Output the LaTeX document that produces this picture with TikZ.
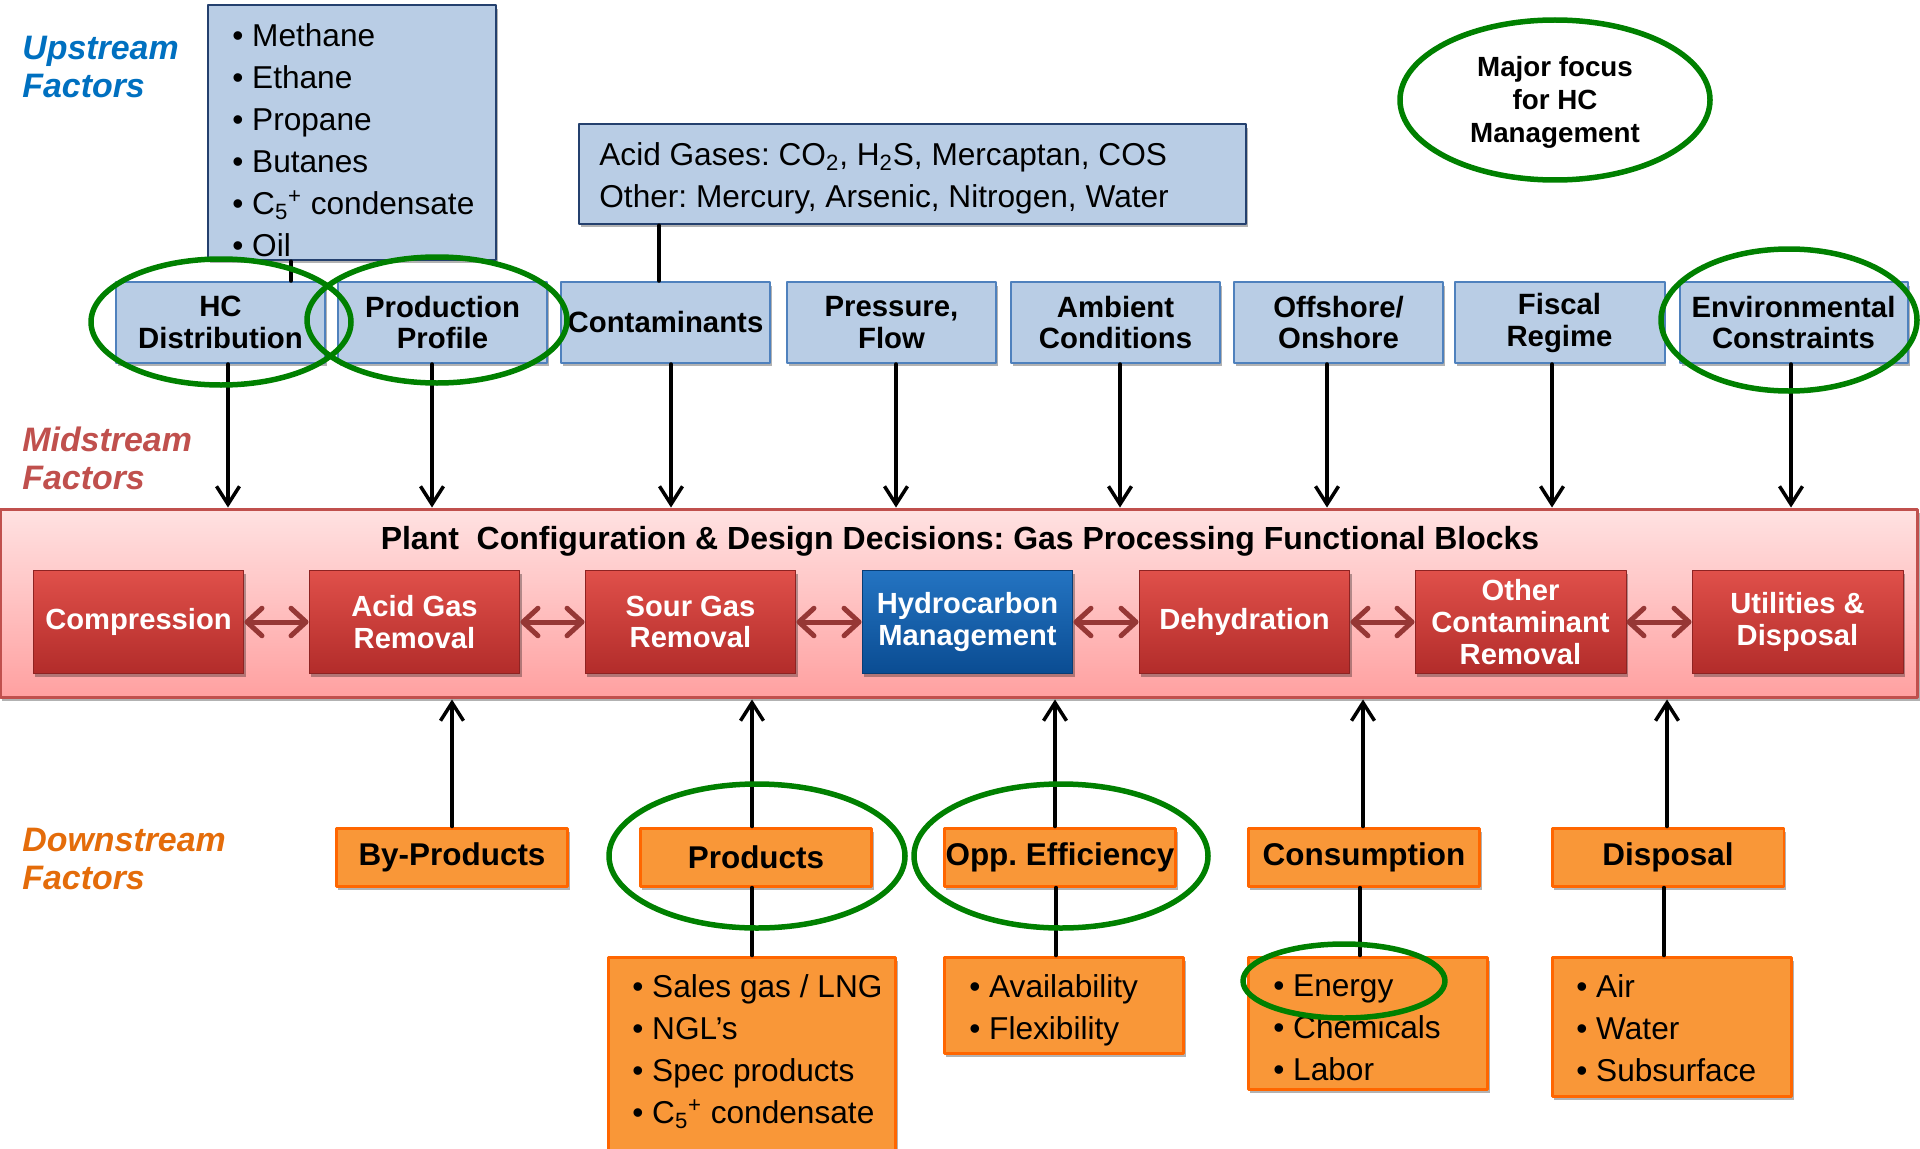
\documentclass[tikz,border=0pt]{standalone}
\usepackage{fontspec}
\setmainfont{Liberation Sans}
\usetikzlibrary{arrows.meta,positioning,shadows}
\definecolor{upfill}{RGB}{185,205,229}
\definecolor{upedge}{RGB}{79,129,189}
\definecolor{listedge}{RGB}{36,64,110}
\definecolor{dsfill}{RGB}{249,151,56}
\definecolor{dsedge}{RGB}{255,102,0}
\definecolor{ringgreen}{RGB}{0,128,0}
\definecolor{upcol}{RGB}{0,112,192}
\definecolor{midcol}{RGB}{192,80,77}
\definecolor{downcol}{RGB}{228,108,10}
\definecolor{planttop}{RGB}{255,226,226}
\definecolor{plantbot}{RGB}{255,160,160}
\definecolor{redtop}{RGB}{224,80,74}
\definecolor{redbot}{RGB}{178,44,42}
\definecolor{bluetop}{RGB}{36,116,194}
\definecolor{bluebot}{RGB}{10,76,146}
\definecolor{linkred}{RGB}{150,55,53}

\begin{document}
\frenchspacing
\begin{tikzpicture}[line cap=round,line join=round,>={Straight Barb[length=0.36cm,width=0.46cm]},x=0.02cm,y=-0.02cm,
	boxshadow/.style={drop shadow={shadow xshift=0.04cm,shadow yshift=-0.07cm,opacity=0.3,fill=black}},
	factor/.style={anchor=north west,align=left,inner sep=0pt,font=\fontsize{19.3}{21.6}\selectfont\bfseries\itshape},
	upbox/.style={draw=upedge,line width=0.04cm,fill=upfill,minimum width=4.2cm,minimum height=1.62cm,inner sep=0pt,align=center,font=\fontsize{16.7}{18.2}\selectfont\bfseries,boxshadow},
	listbox/.style={draw=listedge,line width=0.05cm,fill=upfill,inner sep=0pt,boxshadow},
	items/.style={anchor=north west,align=left,inner sep=0pt,font=\fontsize{18}{23.9}\selectfont},
	block/.style={draw=redbot!80!black,line width=0.02cm,top color=redtop,bottom color=redbot,minimum width=4.22cm,minimum height=2.08cm,inner sep=0pt,align=center,text=white,font=\fontsize{16.6}{18}\selectfont\bfseries,boxshadow},
	hcblock/.style={block,top color=bluetop,bottom color=bluebot,draw=bluebot!80!black},
	link/.style={{Straight Barb[round,length=0.3cm,width=0.55cm]}-{Straight Barb[round,length=0.3cm,width=0.55cm]},line width=0.1cm,draw=linkred},
	feed/.style={->,line width=0.07cm},
	dsbox/.style={draw=dsedge,line width=0.06cm,fill=dsfill,minimum width=4.64cm,minimum height=1.16cm,inner sep=0pt,font=\fontsize{17.9}{20}\selectfont\bfseries,boxshadow},
	dslist/.style={draw=dsedge,line width=0.06cm,fill=dsfill,inner sep=0pt,boxshadow},
	ring/.style={draw=ringgreen,line width=0.11cm}]
		\useasboundingbox (0,0) rectangle (1920,1149);
		\node[factor,text=upcol] (up) at (22,36) {Upstream\\Factors};
		\node[factor,text=midcol] (mid) at (22,427) {Midstream\\Factors};
		\node[factor,text=downcol] (down) at (22,828) {Downstream\\Factors};
		\node[listbox,minimum width=5.76cm,minimum height=5.1cm] (hclist) at (352,132.5) {};
		\node[items] (hcitems) at (232,23) {• Methane\\• Ethane\\• Propane\\• Butanes\\• C\textsubscript{5}\textsuperscript{+} condensate\\• Oil};
		\node[listbox,minimum width=13.34cm,minimum height=2cm] (acid) at (912.5,174) {};
		\node[items] (aciditems) at (599,142) {Acid Gases: CO\textsubscript{2}, H\textsubscript{2}S, Mercaptan, COS\\Other: Mercury, Arsenic, Nitrogen, Water};
		\node[align=center,inner sep=0pt,font=\fontsize{15.8}{18.8}\selectfont\bfseries] (focus) at (1555,102) {Major focus\\for HC\\Management};
		\node[upbox] (hcd) at (220.5,322.5) {HC\\Distribution};
		\node[upbox] (prof) at (442.5,322.5) {Production\\Profile};
		\node[upbox] (cont) at (665.5,322.5) {Contaminants};
		\node[upbox] (pres) at (891.5,322.5) {Pressure,\\Flow};
		\node[upbox] (amb) at (1115.5,322.5) {Ambient\\Conditions};
		\node[upbox] (off) at (1338.5,322.5) {Offshore/\\Onshore};
		\node[upbox] (fisc) at (1559.5,322.5) {Fiscal\\Regime};
		\node[upbox,minimum width=4.56cm] (env) at (1793.5,322.5) {Environmental\\Constraints};
		\draw[line width=0.07cm] (hcd.north -| 291,0) -- (hclist.south -| 291,0);
		\draw[line width=0.07cm] (cont.north -| 659,0) -- (acid.south -| 659,0);
		\node[draw=midcol,line width=0.06cm,top color=planttop,bottom color=plantbot,minimum width=38.36cm,minimum height=3.78cm,inner sep=0pt,boxshadow] (plant) at (959,603.5) {};
		\node[inner sep=0pt,font=\fontsize{18.2}{20}\selectfont\bfseries] (plantttl) at (960,541.5) {Plant\ \ Configuration \& Design Decisions: Gas Processing Functional Blocks};
		\node[block] (comp) at (138.5,622) {Compression};
		\node[block] (agr) at (414.5,622) {Acid Gas\\Removal};
		\node[block] (sgr) at (690.5,622) {Sour Gas\\Removal};
		\node[hcblock] (hcm) at (967.5,622) {Hydrocarbon\\Management};
		\node[block] (dehy) at (1244.5,622) {Dehydration};
		\node[block] (ocr) at (1520.5,622) {Other\\Contaminant\\Removal};
		\node[block] (util) at (1797.5,622) {Utilities \&\\Disposal};
		\foreach \a/\b in {comp/agr,agr/sgr,sgr/hcm,hcm/dehy,dehy/ocr,ocr/util}
			\draw[link] (\a) -- (\b);
		\foreach \n/\x in {hcd/228,prof/432,cont/671,pres/896,amb/1120,off/1327,fisc/1552,env/1791}
			\draw[feed] (\n.south -| \x,0) -- (plant.north -| \x,0);
		\node[dsbox] (byp) at (452,857) {By-Products};
		\node[dsbox] (prd) at (756,857) {Products};
		\node[dsbox] (opp) at (1060,857) {Opp. Efficiency};
		\node[dsbox] (cons) at (1364,857) {Consumption};
		\node[dsbox] (disp) at (1668,857) {Disposal};
		\foreach \n/\x in {byp/452,prd/752,opp/1055,cons/1363,disp/1667}
			\draw[feed] (\n.north -| \x,0) -- (plant.south -| \x,0);
		\node[dslist,minimum width=5.76cm,minimum height=3.9cm] (prdlist) at (752,1054.5) {};
		\node[dslist,minimum width=4.8cm,minimum height=1.92cm] (opplist) at (1064,1005) {};
		\node[dslist,minimum width=4.8cm,minimum height=2.66cm] (conslist) at (1368,1023.5) {};
		\node[dslist,minimum width=4.8cm,minimum height=2.8cm] (displist) at (1672,1027) {};
		\foreach \n/\m/\x in {prd/prdlist/752,opp/opplist/1056,cons/conslist/1360,disp/displist/1664}
			\draw[line width=0.07cm] (\n.south -| \x,0) -- (\m.north -| \x,0);
		\node[items] (prditems) at (632,974) {• Sales gas / LNG\\• NGL’s\\• Spec products\\• C\textsubscript{5}\textsuperscript{+} condensate};
		\node[items] (oppitems) at (969,974) {• Availability\\• Flexibility};
		\node[items] (consitems) at (1273,974) {• Energy\\• Chemicals\\• Labor};
		\node[items] (dispitems) at (1576,974) {• Air\\• Water\\• Subsurface};
		\draw[ring] (1555,100) ellipse (155 and 80);
		\draw[ring] (221,322) ellipse (130 and 63);
		\draw[ring] (437,320) ellipse (130 and 63);
		\draw[ring] (1789,320) ellipse (128 and 71);
		\draw[ring] (757,856) ellipse (148 and 72);
		\draw[ring] (1061,856) ellipse (147 and 72);
		\draw[ring] (1344,981) ellipse (101 and 37);
\end{tikzpicture}
\end{document}
